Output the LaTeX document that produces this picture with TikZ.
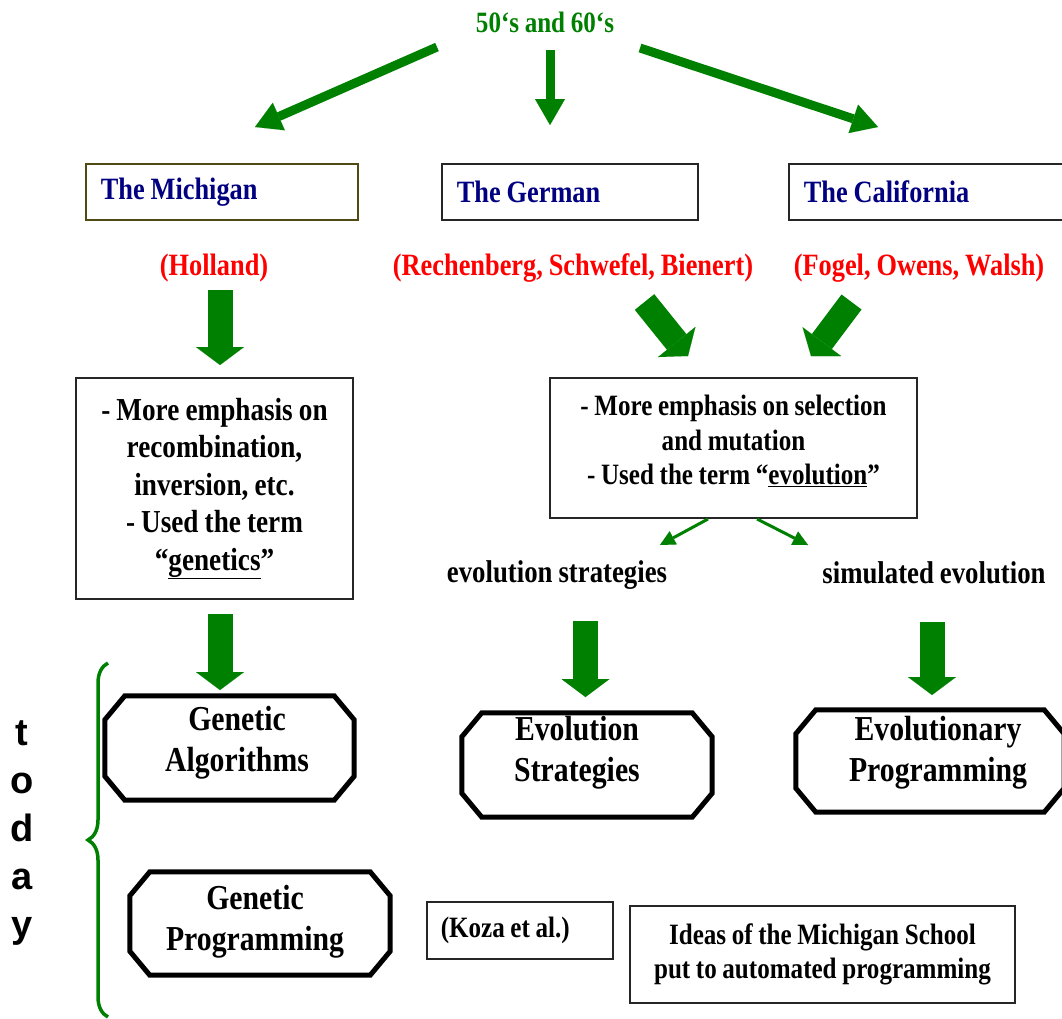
\documentclass[tikz,border=0pt]{standalone}
\usepackage{fontspec}
\setmainfont{Liberation Serif}[FakeStretch=0.85, WordSpace=0.9]
\newfontfamily\todayfont{Liberation Sans}
\usetikzlibrary{positioning,calc,arrows.meta,decorations.pathreplacing}
\definecolor{dkgreen}{RGB}{0,128,0}
\definecolor{navy}{RGB}{0,0,128}
\definecolor{olivedk}{RGB}{80,75,20}
\newcommand{\fs}[2]{\fontsize{#1}{#2}\selectfont}
% octagon frame round a named node
\newcommand{\octframe}[1]{%
  \draw[line width=5pt] ([xshift=20pt]#1.north west) -- ([xshift=-20pt]#1.north east)
    -- ([yshift=-24pt]#1.north east) -- ([yshift=24pt]#1.south east)
    -- ([xshift=-20pt]#1.south east) -- ([xshift=20pt]#1.south west)
    -- ([yshift=24pt]#1.south west) -- ([yshift=-24pt]#1.north west) -- cycle;}

\begin{document}
\begin{tikzpicture}[x=1pt,y=-1pt,
    school/.style={draw=black!85, line width=1.6pt, anchor=north west, minimum height=56pt,
      inner xsep=15pt, align=flush left, text=navy, font=\bfseries\fs{31}{37}},
    names/.style={text=red, font=\bfseries\fs{31}{37}},
    infobox/.style={draw=black!85, line width=1.6pt, align=center},
    branch/.style={font=\bfseries\fs{31.5}{37}},
    octa/.style={inner sep=0pt},
    octtext/.style={align=center, font=\bfseries\fs{35}{41}},
    thinarrow/.style={dkgreen, line width=9pt, -{Triangle[width=30pt,length=26pt,line width=0.01pt]}},
    smallarrow/.style={dkgreen, line width=3pt, -{Triangle[width=15pt,length=15pt,line width=0.01pt]}},
    blockarrow/.style={dkgreen, line width=25pt, -{Triangle[width=48pt,length=18pt,line width=0.01pt]}}]
  \useasboundingbox (0,0) rectangle (1062,1018);

  % origins
  \node[text=dkgreen, font=\bfseries\fs{29.5}{35}] (era) at (545,22) {50‘s and 60‘s};
  \node[school, text width=242pt, draw=olivedk] (mich) at (85,163) {The Michigan};
  \node[school, text width=226pt] (germ) at (441,163) {The German};
  \node[school, text width=250pt] (cali) at (788,163) {The California};

  \coordinate (m1) at (437,47);  \coordinate (m2) at (255,127);
  \coordinate (g1) at (550,50);  \coordinate (g2) at (550,125);
  \coordinate (c1) at (640,48);  \coordinate (c2) at (878,127);
  \draw[thinarrow] (m1) -- (m2);
  \draw[thinarrow] (g1) -- (g2);
  \draw[thinarrow] (c1) -- (c2);

  % founders
  \node[names] (hol) at (214,268) {(Holland)};
  \node[names] (rsb) at (573,268) {(Rechenberg, Schwefel, Bienert)};
  \node[names] (fow) at (919,268) {(Fogel, Owens, Walsh)};

  % ideas
  \node[infobox, minimum width=277pt, minimum height=221pt, font=\bfseries\fs{32}{37.5}] (gabox)
    at (214.5,488.5) {- More emphasis on\\recombination,\\inversion, etc.\\- Used the term\\“\underline{genetics}”};
  \node[infobox, minimum width=367pt, minimum height=140pt,
    label={[yshift=7pt, align=center, font=\bfseries\fs{29.5}{34.5}]center:- More emphasis on selection\\and mutation\\- Used the term “\underline{evolution}”}] (esbox)
    at (733.5,448) {};

  \coordinate (h1) at (220,290);   \coordinate (h2) at (220,365);
  \coordinate (r1) at (644.5,302); \coordinate (r2) at (688,356);
  \coordinate (f1) at (851.5,302); \coordinate (f2) at (811,356);
  \draw[blockarrow] (h1) -- (h2);
  \draw[blockarrow] (r1) -- (r2);
  \draw[blockarrow] (f1) -- (f2);

  \node[branch] (strat) at (557,575) {evolution strategies};
  \node[branch] (simev) at (934,573) {simulated evolution};
  \coordinate (s1) at (708,519); \coordinate (s2) at (660,545);
  \coordinate (v1) at (757,519); \coordinate (v2) at (808,545);
  \draw[smallarrow] (s1) -- (s2);
  \draw[smallarrow] (v1) -- (v2);

  % today
  \node[octa, minimum width=249pt, minimum height=104pt,
    label={[octtext, xshift=7.5pt, yshift=5.5pt]center:Genetic\\Algorithms}] (ga) at (229.5,748) {};
  \node[octa, minimum width=250pt, minimum height=104pt,
    label={[octtext, xshift=-10pt, yshift=12pt]center:Evolution\\Strategies}] (es) at (587,765) {};
  \node[octa, minimum width=268pt, minimum height=102pt,
    label={[octtext, xshift=8pt, yshift=8.5pt]center:Evolutionary\\Programming}] (ep) at (930,761) {};
  \node[octa, minimum width=260pt, minimum height=103pt,
    label={[octtext, xshift=-5pt, yshift=2pt]center:Genetic\\Programming}] (gp) at (260,923.5) {};
  \foreach \o in {ga,es,ep,gp}
    \octframe{\o};

  \coordinate (a1) at (220,614); \coordinate (a2) at (220,690);
  \coordinate (b1) at (585.5,621); \coordinate (b2) at (585.5,697);
  \coordinate (d1) at (932,622); \coordinate (d2) at (932,695);
  \draw[blockarrow] (a1) -- (a2);
  \draw[blockarrow] (b1) -- (b2);
  \draw[blockarrow] (d1) -- (d2);

  \node[infobox, anchor=north west, minimum height=57pt, text width=158pt, inner xsep=14pt,
    align=flush left, font=\bfseries\fs{29.5}{35}] (koza) at (426,901) {(Koza et al.)};
  \node[infobox, minimum width=385pt, minimum height=97pt, font=\bfseries\fs{29.5}{34}] (idea)
    at (822.5,954.5) {Ideas of the Michigan School\\put to automated programming};

  \node[align=center, font=\todayfont\bfseries\fs{38}{48}] (today) at (22,833) {t\\o\\d\\a\\y};
  \draw[dkgreen, line width=3.5pt, decorate, decoration={brace, amplitude=20pt}] (108,1017) -- (108,663);
\end{tikzpicture}
\end{document}
